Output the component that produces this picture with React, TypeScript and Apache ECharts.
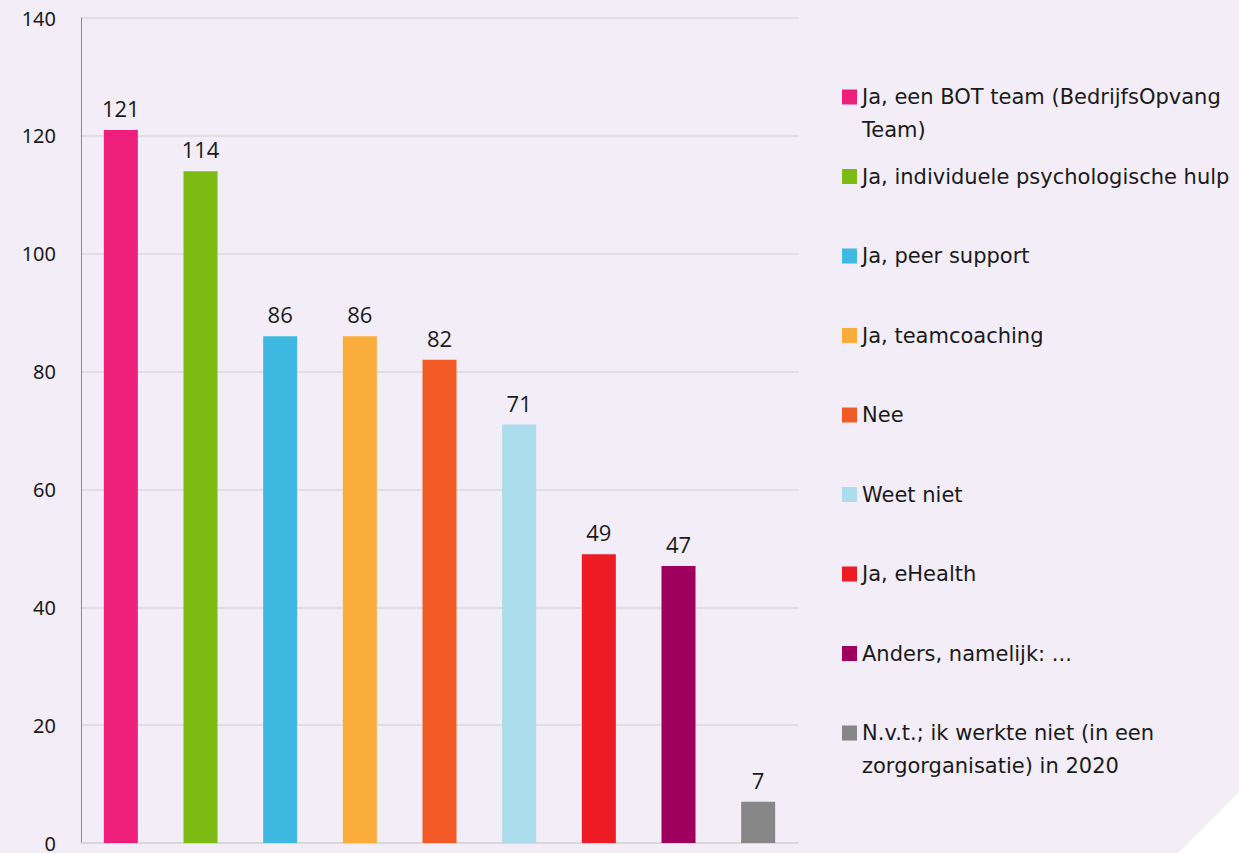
import React, { useEffect, useRef } from "react";
import * as echarts from "echarts";

const categories = [
  "Ja, een BOT team (BedrijfsOpvang\nTeam)",
  "Ja, individuele psychologische hulp",
  "Ja, peer support",
  "Ja, teamcoaching",
  "Nee",
  "Weet niet",
  "Ja, eHealth",
  "Anders, namelijk: ...",
  "N.v.t.; ik werkte niet (in een\nzorgorganisatie) in 2020",
];
const values = [121, 114, 86, 86, 82, 71, 49, 47, 7];
const colors = [
  "#ED1F7B",
  "#7CBB12",
  "#3FB9E1",
  "#FBAD3B",
  "#F15A25",
  "#ABDCEB",
  "#ED1C24",
  "#9E005D",
  "#878787",
];
const yTicks = { min: 0, max: 140, interval: 20 };

const LH = 33;
const LEGEND_FIRST = 97;
const LEGEND_STEP = 79.5;

export default function App() {
  const ref = useRef<HTMLDivElement>(null);
  useEffect(() => {
    if (!ref.current) return;
    const chart = echarts.init(ref.current, null, { renderer: "svg" });
    const series = categories.map((name, i) => ({
      name,
      type: "bar",
      stack: "all",
      barWidth: 34,
      itemStyle: { color: colors[i] },
      label: {
        show: true,
        position: "top",
        distance: 11,
        fontSize: 22,
        color: "#1a1a1a",
        fontFamily: "Open Sans",
      },
      data: values.map((v, j) => (j === i ? v : "-")),
    }));
    const legends = categories.map((name, i) => {
      const lines = name.split("\n").length;
      const text = lines > 1 ? " \n" + name : name;
      const nLines = lines > 1 ? 3 : 1;
      const center = LEGEND_FIRST + i * LEGEND_STEP;
      return {
        show: true,
        orient: "vertical",
        left: 842,
        top: center - (nLines * LH) / 2,
        padding: 0,
        itemWidth: 15,
        itemHeight: 15,
        icon: "rect",
        selectedMode: false,
        data: [name],
        formatter: () => text,
        textStyle: {
          fontSize: 21,
          lineHeight: LH,
          color: "#1a1a1a",
          fontFamily: "DejaVu Sans",
        },
      };
    });
    chart.setOption({
      animation: false,
      backgroundColor: "transparent",
      grid: { left: 81, right: 447, top: 18, bottom: 8, containLabel: false },
      legend: legends,
      xAxis: {
        type: "category",
        data: categories,
        axisLabel: { show: false },
        axisTick: { show: false },
        axisLine: { show: true, lineStyle: { color: "#d6d6d6", width: 1.5 } },
      },
      yAxis: {
        type: "value",
        min: yTicks.min,
        max: yTicks.max,
        interval: yTicks.interval,
        axisLine: { show: true, lineStyle: { color: "#8a8a8a", width: 1 } },
        axisTick: { show: false },
        axisLabel: {
          margin: 25,
          fontSize: 20,
          color: "#1a1a1a",
          fontFamily: "Noto Sans",
        },
        splitLine: { show: true, lineStyle: { color: "#d9d9d9", width: 1.5 } },
      },
      series,
    });
    return () => chart.dispose();
  }, []);
  return (
    <div
      style={{
        position: "fixed",
        left: 0,
        top: 0,
        width: 1245,
        height: 853,
        background: "#ffffff",
      }}
    >
      <div
        style={{
          position: "absolute",
          left: 0,
          top: 0,
          width: 1245,
          height: 853,
          background: "#F2EDF7",
          clipPath: "polygon(0 0, 1239px 0, 1239px 792px, 1178px 853px, 0 853px)",
        }}
      />
      <div
        ref={ref}
        style={{ position: "absolute", left: 0, top: 0, width: 1245, height: 853 }}
      />
    </div>
  );
}
